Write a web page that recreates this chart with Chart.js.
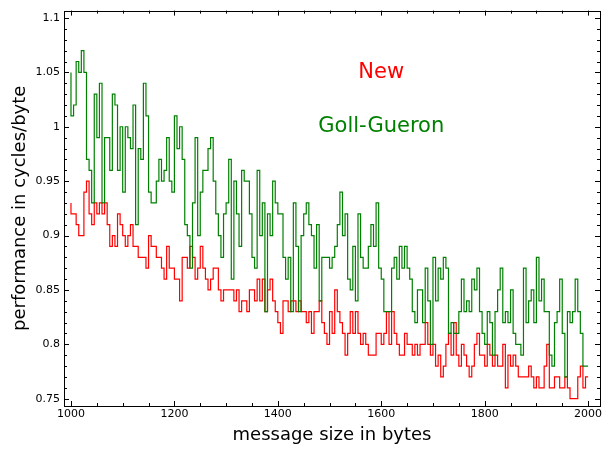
<!DOCTYPE html>
<html>
<head>
<meta charset="utf-8">
<script src="https://cdn.jsdelivr.net/npm/chart.js@4.4.0/dist/chart.umd.min.js"></script>
<style>
  html, body { margin: 0; padding: 0; background: #fff; }
  #wrap { width: 608px; height: 450px; }
</style>
</head>
<body>
<div id="wrap"><canvas id="chart" width="608" height="450"></canvas></div>
<script>
// message sizes: 1000..2000 bytes, one reading every 5 bytes
const sizeStart = 1000;
const sizeStep = 5;

// tick labels
const xTicks = [1000, 1200, 1400, 1600, 1800, 2000];
const yTicks = [0.75, 0.8, 0.85, 0.9, 0.95, 1, 1.05, 1.1];

// Goll-Gueron, cycles/byte (one row = 100 bytes)
const gollGueron = [
  1.05, 1.01, 1.02, 1.06, 1.05, 1.07, 1.05, 0.97, 0.96, 0.93, 1.03, 0.99, 1.04, 0.93, 0.99, 0.99, 0.96, 1.03, 1.02, 0.96,
  1.00, 0.94, 1.00, 0.99, 0.98, 1.02, 0.91, 0.98, 0.97, 1.04, 1.01, 0.94, 0.93, 0.93, 0.95, 0.97, 0.95, 0.96, 0.99, 0.95,
  0.94, 1.01, 0.98, 1.00, 0.97, 0.91, 0.90, 0.87, 0.93, 0.99, 0.90, 0.94, 0.96, 0.96, 0.98, 0.99, 0.95, 0.92, 0.90, 0.88,
  0.92, 0.93, 0.97, 0.86, 0.95, 0.92, 0.89, 0.96, 0.95, 0.95, 0.92, 0.88, 0.87, 0.96, 0.90, 0.93, 0.83, 0.92, 0.90, 0.95,
  0.93, 0.92, 0.92, 0.88, 0.86, 0.88, 0.83, 0.93, 0.89, 0.83, 0.90, 0.92, 0.93, 0.91, 0.90, 0.87, 0.91, 0.84, 0.88, 0.88,
  0.88, 0.87, 0.88, 0.89, 0.91, 0.94, 0.90, 0.92, 0.86, 0.85, 0.89, 0.84, 0.92, 0.88, 0.87, 0.87, 0.89, 0.91, 0.89, 0.93,
  0.87, 0.86, 0.83, 0.83, 0.83, 0.87, 0.88, 0.86, 0.89, 0.87, 0.89, 0.87, 0.86, 0.83, 0.82, 0.85, 0.85, 0.82, 0.87, 0.84,
  0.80, 0.88, 0.84, 0.87, 0.86, 0.88, 0.87, 0.81, 0.82, 0.81, 0.81, 0.83, 0.86, 0.83, 0.84, 0.83, 0.86, 0.85, 0.87, 0.83,
  0.81, 0.80, 0.83, 0.82, 0.79, 0.83, 0.85, 0.87, 0.82, 0.83, 0.82, 0.85, 0.81, 0.80, 0.80, 0.79, 0.87, 0.82, 0.84, 0.85,
  0.82, 0.88, 0.84, 0.86, 0.83, 0.83, 0.79, 0.78, 0.82, 0.83, 0.86, 0.81, 0.77, 0.83, 0.82, 0.83, 0.86, 0.83, 0.81, 0.78,
  0.78
];

// New, cycles/byte
const newImpl = [
  0.93, 0.92, 0.92, 0.91, 0.90, 0.90, 0.94, 0.95, 0.92, 0.91, 0.93, 0.92, 0.93, 0.92, 0.93, 0.91, 0.89, 0.90, 0.89, 0.92,
  0.91, 0.90, 0.89, 0.90, 0.91, 0.89, 0.89, 0.88, 0.88, 0.88, 0.87, 0.90, 0.89, 0.89, 0.88, 0.88, 0.87, 0.86, 0.89, 0.87,
  0.87, 0.86, 0.86, 0.84, 0.88, 0.88, 0.87, 0.89, 0.88, 0.86, 0.87, 0.89, 0.87, 0.86, 0.85, 0.86, 0.87, 0.87, 0.85, 0.84,
  0.85, 0.85, 0.85, 0.85, 0.84, 0.85, 0.83, 0.84, 0.84, 0.83, 0.85, 0.85, 0.84, 0.86, 0.84, 0.86, 0.83, 0.85, 0.86, 0.84,
  0.83, 0.82, 0.81, 0.84, 0.84, 0.83, 0.84, 0.84, 0.83, 0.84, 0.83, 0.83, 0.82, 0.83, 0.81, 0.83, 0.83, 0.84, 0.82, 0.81,
  0.80, 0.83, 0.81, 0.85, 0.83, 0.82, 0.81, 0.79, 0.81, 0.83, 0.81, 0.83, 0.81, 0.80, 0.81, 0.80, 0.79, 0.79, 0.79, 0.81,
  0.81, 0.80, 0.81, 0.83, 0.80, 0.83, 0.81, 0.80, 0.79, 0.79, 0.81, 0.80, 0.80, 0.79, 0.80, 0.79, 0.80, 0.80, 0.82, 0.80,
  0.79, 0.80, 0.78, 0.79, 0.77, 0.78, 0.80, 0.81, 0.79, 0.82, 0.79, 0.78, 0.80, 0.79, 0.78, 0.77, 0.78, 0.80, 0.81, 0.79,
  0.79, 0.78, 0.80, 0.79, 0.78, 0.79, 0.78, 0.78, 0.80, 0.76, 0.79, 0.78, 0.79, 0.78, 0.77, 0.77, 0.77, 0.77, 0.78, 0.77,
  0.76, 0.77, 0.76, 0.76, 0.78, 0.80, 0.76, 0.76, 0.77, 0.77, 0.76, 0.76, 0.77, 0.76, 0.75, 0.75, 0.75, 0.77, 0.78, 0.76,
  0.77
];

// text labels placed in data coordinates
const labelX = 1600;
const labelNewY = 1.05;
const labelGollY = 1.00;

const toPoints = (vals) => vals.map((v, i) => ({ x: sizeStart + i * sizeStep, y: v }));

const FONT = "'DejaVu Sans', sans-serif";

// matplotlib-ish frame + inward ticks on all four sides + text labels
const framePlugin = {
  id: 'frame',
  afterDatasetsDraw(chart) {
    const { ctx, chartArea: a, scales: { x, y } } = chart;
    ctx.save();
    ctx.strokeStyle = '#000';
    ctx.lineWidth = 1;
    ctx.beginPath();
    // x ticks every 50, major every 200
    for (let v = 1000; v <= 2000; v += 50) {
      const px = Math.round(x.getPixelForValue(v)) + 0.5;
      const len = v % 200 === 0 ? 5 : 3;
      ctx.moveTo(px, a.bottom); ctx.lineTo(px, a.bottom - len);
      ctx.moveTo(px, a.top); ctx.lineTo(px, a.top + len);
    }
    // y ticks every 0.01, major every 0.05
    for (let k = 75; k <= 110; k++) {
      const py = Math.round(y.getPixelForValue(k / 100)) + 0.5;
      const len = k % 5 === 0 ? 5 : 3;
      ctx.moveTo(a.left, py); ctx.lineTo(a.left + len, py);
      ctx.moveTo(a.right, py); ctx.lineTo(a.right - len, py);
    }
    ctx.stroke();
    ctx.strokeRect(Math.round(a.left) + 0.5, Math.round(a.top) + 0.5,
                   Math.round(a.right - a.left), Math.round(a.bottom - a.top));

    ctx.font = '21px ' + FONT;
    ctx.textAlign = 'center';
    ctx.textBaseline = 'middle';
    ctx.fillStyle = '#ff0000';
    ctx.fillText('New', x.getPixelForValue(labelX), y.getPixelForValue(labelNewY));
    ctx.fillStyle = '#008000';
    ctx.fillText('Goll-Gueron', x.getPixelForValue(labelX), y.getPixelForValue(labelGollY));
    ctx.restore();
  }
};

new Chart(document.getElementById('chart').getContext('2d'), {
  type: 'line',
  data: {
    datasets: [
      {
        label: 'Goll-Gueron',
        data: toPoints(gollGueron),
        borderColor: '#008000',
        borderWidth: 1.2,
        stepped: 'after',
        pointRadius: 0,
        fill: false
      },
      {
        label: 'New',
        data: toPoints(newImpl),
        borderColor: '#ff0000',
        borderWidth: 1.2,
        stepped: 'after',
        pointRadius: 0,
        fill: false
      }
    ]
  },
  options: {
    responsive: false,
    animation: false,
    devicePixelRatio: 1,
    layout: { padding: { top: 8, right: 8, left: 0, bottom: 0 } },
    plugins: { legend: { display: false }, tooltip: { enabled: false } },
    scales: {
      x: {
        type: 'linear',
        min: 986.5,
        max: 2023,
        border: { display: false },
        grid: { display: false, drawTicks: false },
        afterBuildTicks(scale) { scale.ticks = xTicks.map(v => ({ value: v })); },
        ticks: {
          padding: 2,
          maxRotation: 0,
          autoSkip: false,
          color: '#000',
          font: { family: FONT, size: 11 },
          callback: (v) => String(v)
        },
        title: {
          display: true,
          text: 'message size in bytes',
          color: '#000',
          font: { family: FONT, size: 18 },
          padding: { top: 0, bottom: 4 }
        },
        afterFit(scale) { scale.height = 44; }
      },
      y: {
        type: 'linear',
        min: 0.7433,
        max: 1.1068,
        border: { display: false },
        grid: { display: false, drawTicks: false },
        afterBuildTicks(scale) { scale.ticks = yTicks.map(v => ({ value: v })); },
        ticks: {
          padding: 4,
          autoSkip: false,
          color: '#000',
          font: { family: FONT, size: 11 },
          callback: (v) => String(Number(v.toFixed(2)))
        },
        title: {
          display: true,
          text: 'performance in cycles/byte',
          color: '#000',
          font: { family: FONT, size: 18 },
          padding: { top: 10, bottom: 0 }
        },
        afterFit(scale) { scale.width = 64; }
      }
    }
  },
  plugins: [framePlugin]
});
</script>
</body>
</html>
